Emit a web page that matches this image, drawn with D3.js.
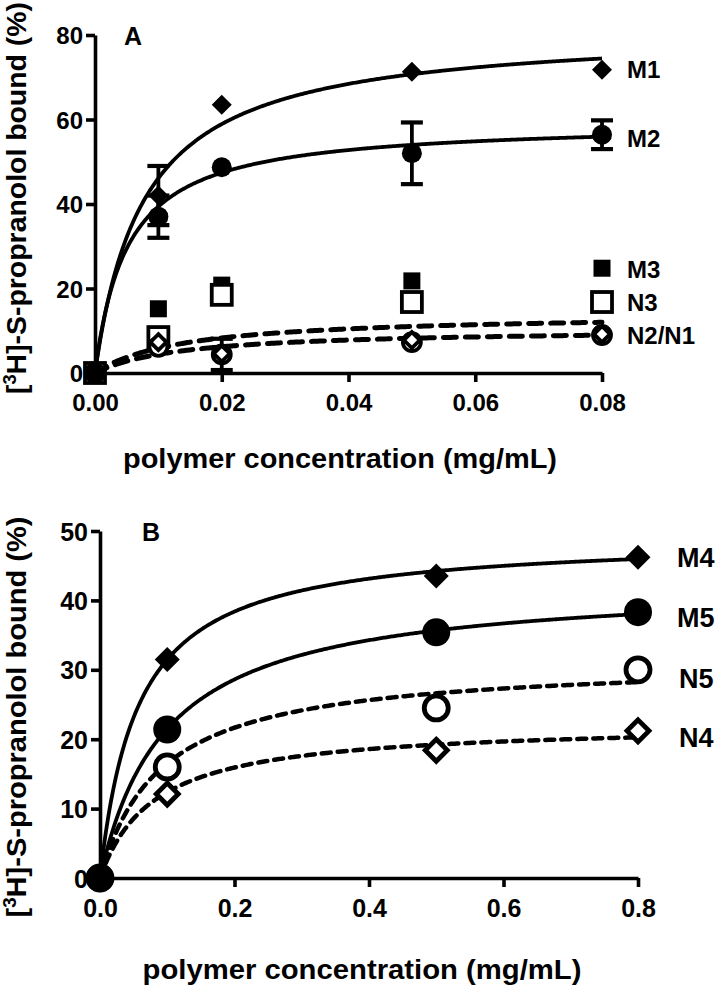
<!DOCTYPE html>
<html><head><meta charset="utf-8">
<script src="https://cdn.jsdelivr.net/npm/d3@7"></script>
<style>body{margin:0;background:#fff}text{font-family:'Liberation Sans',Arial,sans-serif;font-weight:bold;fill:#000}</style>
</head><body><svg id="c" width="719" height="988"></svg>
<script>
// ---------- Panel A data ----------
const concA = [0, 0.01, 0.02, 0.05, 0.08];
const M1 = [0, 42, 63.5, 71.3, 71.8];
const M1err = [0, 7, 0, 0, 0];
const M2 = [0, 37, 48.7, 52, 56.4];
const M2err = [0, 5, 0, 7.3, 3.4];
const M3 = [0, 15.2, 20.8, 21.8, 24.8];
const N3 = [0, 8.5, 18.5, 16.8, 16.8];
const N2 = [0, 6.2, 4.4, 7.3, 9.0];
const N2err = [0, 0, 3.7, 0, 0];
const N1 = [0, 7.3, 4.6, 7.8, 9.2];
const xTicksA = [0, 0.02, 0.04, 0.06, 0.08];
const yTicksA = [0, 20, 40, 60, 80];
// fitted one-site binding curves (Bmax, Kd)
const fitM1 = [81.6, 0.0077];
const fitM2 = [59.5, 0.0051];
const fitN2 = [14.1, 0.014];
const fitN1 = [10.5, 0.0138];

// ---------- Panel B data ----------
const concB = [0, 0.1, 0.5, 0.8];
const M4 = [0, 31.5, 43.5, 46.2];
const M5 = [0, 21.4, 35.4, 38.3];
const N5 = [0, 16, 24.5, 30];
const N4 = [0, 12.1, 18.4, 21.2];
const xTicksB = [0, 0.2, 0.4, 0.6, 0.8];
const yTicksB = [0, 10, 20, 30, 40, 50];
const fitM4 = [49.2, 0.0563];
const fitM5 = [42.7, 0.0985];
const fitN5 = [31.4, 0.09];
const fitN4 = [22.3, 0.0802];

const svg = d3.select('#c');
svg.append('rect').attr('width',719).attr('height',988).attr('fill','#fff');

function diamondPath(h){ return `M0,${-h}L${h},0L0,${h}L${-h},0Z`; }

function panel(cfg){
  const g = svg.append('g');
  const x = d3.scaleLinear().domain(cfg.xd).range(cfg.xr);
  const y = d3.scaleLinear().domain(cfg.yd).range(cfg.yr);
  // axes
  const ax = g.append('g').attr('transform',`translate(0,${cfg.yr[0]})`)
    .call(d3.axisBottom(x).tickValues(cfg.xt).tickFormat(d3.format(cfg.xf)).tickSize(9).tickSizeOuter(0).tickPadding(cfg.xpad));
  const ay = g.append('g').attr('transform',`translate(${cfg.xr[0]},0)`)
    .call(d3.axisLeft(y).tickValues(cfg.yt).tickFormat(d3.format('d')).tickSize(9).tickSizeOuter(0).tickPadding(3));
  [ax,ay].forEach(a=>{
    a.selectAll('path,line').attr('stroke','#000').attr('stroke-width',3.6);
    a.selectAll('text').attr('font-size',cfg.tickFs).attr('font-family',"'Liberation Sans',Arial,sans-serif").attr('font-weight','bold').attr('fill','#000');
  });
  ay.selectAll('text').attr('dy','0.36em');
  ax.selectAll('text').attr('dy','0.76em');
  // curves
  const xs = d3.range(0, 401).map(i=>cfg.xd[1]*i/400);
  cfg.fits.forEach(f=>{
    const [bm,kd] = f.p;
    g.append('path').datum(xs)
      .attr('d', d3.line().x(d=>x(d)).y(d=>y(bm*d/(kd+d))))
      .attr('fill','none').attr('stroke','#000').attr('stroke-width',f.dash?cfg.dashW:3.8)
      .attr('stroke-dasharray',f.dash?cfg.dash:null).attr('stroke-linecap',f.dash?'round':'butt');
  });
  // series
  cfg.series.forEach(s=>{
    const pts = s.v.map((v,i)=>({x:cfg.conc[i],y:v,e:s.err?s.err[i]:0}));
    pts.filter(p=>p.e>0).forEach(p=>{
      const cx=x(p.x), t=y(p.y+p.e), b=y(p.y-p.e);
      g.append('line').attr('x1',cx).attr('x2',cx).attr('y1',t).attr('y2',b).attr('stroke','#000').attr('stroke-width',3.8);
      [t,b].forEach(yy=>g.append('line').attr('x1',cx-11).attr('x2',cx+11).attr('y1',yy).attr('y2',yy).attr('stroke','#000').attr('stroke-width',4.2));
    });
    pts.forEach(p=>{
      const m = g.append('g').attr('transform',`translate(${x(p.x)},${y(p.y)})`);
      const fill = s.open?'#fff':'#000';
      const sw = s.open?cfg.openW:0;
      if(s.shape==='diamond') m.append('path').attr('d',diamondPath(s.size)).attr('fill',fill).attr('stroke','#000').attr('stroke-width',sw).attr('stroke-linejoin','miter');
      else if(s.shape==='circle') m.append('circle').attr('r',s.size).attr('fill',fill).attr('stroke','#000').attr('stroke-width',sw);
      else m.append('rect').attr('x',-s.size).attr('y',-s.size).attr('width',2*s.size).attr('height',2*s.size).attr('fill',fill).attr('stroke','#000').attr('stroke-width',sw);
    });
  });
  // labels
  cfg.labels.forEach(l=>{
    g.append('text').attr('x',l.x).attr('y',y(l.y)).attr('dy','0.36em').attr('font-size',cfg.labFs).text(l.t);
  });
  g.append('text').attr('x',cfg.letter[0]).attr('y',cfg.letter[1]).attr('font-size',25).text(cfg.letter[2]);
  // titles
  g.append('text').attr('x',cfg.xt_[0]).attr('y',cfg.xt_[1]).attr('text-anchor','middle').attr('font-size',27)
    .attr('textLength',cfg.xt_[2]).attr('lengthAdjust','spacingAndGlyphs').text('polymer concentration (mg/mL)');
  const yt = g.append('text').attr('transform',`translate(${cfg.yt_[0]},${cfg.yt_[1]}) rotate(-90)`).attr('text-anchor','middle')
    .attr('font-size',28).attr('textLength',cfg.yt_[2]).attr('lengthAdjust','spacingAndGlyphs');
  yt.append('tspan').text('[');
  yt.append('tspan').attr('font-size',18).attr('dy',-10).text('3');
  yt.append('tspan').attr('dy',10).text('H]-S-propranolol bound (%)');
}

panel({
  xd:[0,0.08], xr:[95,602], yd:[0,80], yr:[373,35], xt:xTicksA, yt:yTicksA, xf:'.2f', conc:concA,
  tickFs:24, labFs:24, dash:'13,9', dashW:5, openW:3.8, xpad:11,
  fits:[{p:fitM1},{p:fitM2},{p:fitN2,dash:true},{p:fitN1,dash:true}],
  series:[
    {v:M3, shape:'square', size:8.5},
    {v:N3, shape:'square', size:10, open:true},
    {v:N2, err:N2err, shape:'circle', size:9, open:true},
    {v:N1, shape:'diamond', size:8, open:true},
    {v:M1, err:M1err, shape:'diamond', size:10},
    {v:M2, err:M2err, shape:'circle', size:10}
  ],
  labels:[{x:627,y:71.8,t:'M1'},{x:627,y:55.5,t:'M2'},{x:627,y:24.6,t:'M3'},{x:627,y:16.8,t:'N3'},{x:627,y:8.8,t:'N2/N1'}],
  letter:[124,45,'A'],
  xt_:[340,468,434], yt_:[26,198,392]
});

panel({
  xd:[0,0.8], xr:[100,638], yd:[0,50], yr:[878,531], xt:xTicksB, yt:yTicksB, xf:'.1f', conc:concB,
  tickFs:25, labFs:27, dash:'9,7', dashW:4.5, openW:4.8, xpad:11,
  fits:[{p:fitM4},{p:fitM5},{p:fitN5,dash:true},{p:fitN4,dash:true}],
  series:[
    {v:N4, shape:'diamond', size:11, open:true},
    {v:N5, shape:'circle', size:12, open:true},
    {v:M4, shape:'diamond', size:12.5},
    {v:M5, shape:'circle', size:14}
  ],
  labels:[{x:677,y:46.2,t:'M4'},{x:677,y:37.5,t:'M5'},{x:679,y:28.8,t:'N5'},{x:679,y:20.3,t:'N4'}],
  letter:[142,541,'B'],
  xt_:[362,979,439], yt_:[26,717,401]
});
</script></body></html>
